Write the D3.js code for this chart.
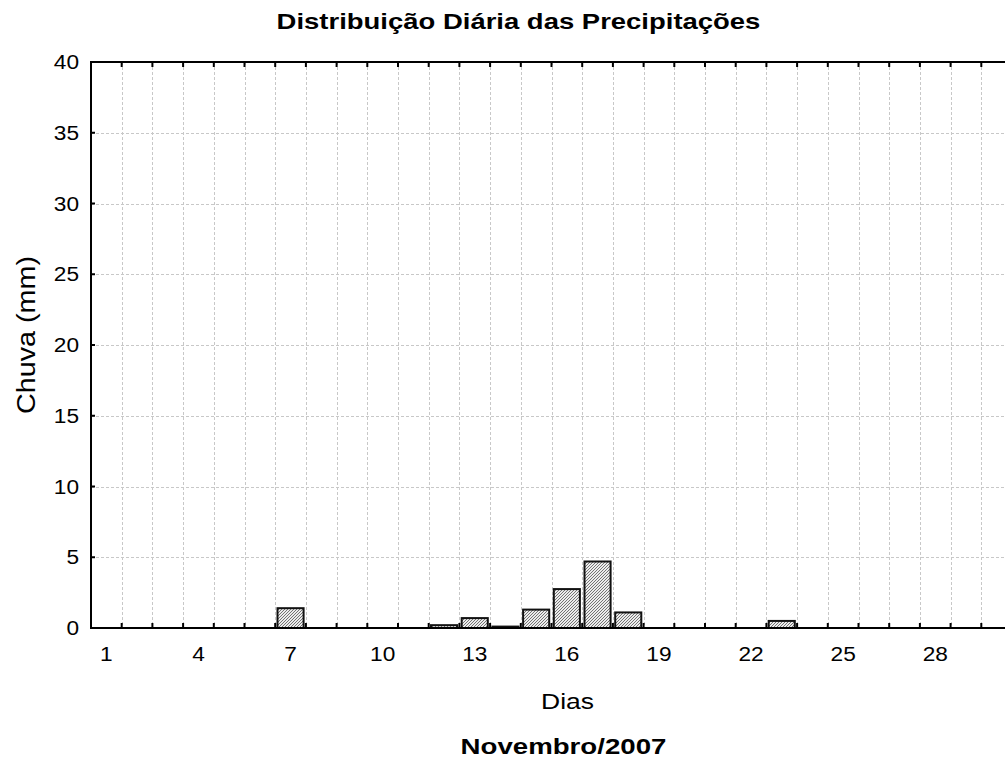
<!DOCTYPE html>
<html>
<head>
<meta charset="utf-8">
<script src="https://cdn.jsdelivr.net/npm/d3@7"></script>
<style>
  body { margin: 0; background: #fff; }
  svg { display: block; font-family: "Liberation Sans", Arial, sans-serif; }
</style>
</head>
<body>
<div id="chart"></div>
<script>
// daily rainfall, November 2007
const days = d3.range(1, 31);
const rainDays = [7, 12, 13, 14, 15, 16, 17, 18, 23];
const rainMm = [1.4, 0.2, 0.7, 0.1, 1.3, 2.75, 4.7, 1.1, 0.5];
const xTickLabels = [1, 4, 7, 10, 13, 16, 19, 22, 25, 28];
const yTicks = [0, 5, 10, 15, 20, 25, 30, 35, 40];

const width = 1005, height = 778;
const margin = { top: 62, left: 91, bottom: 150, step: 30.7 };
const plotBottom = height - margin.bottom;

const svg = d3.select("#chart").append("svg")
  .attr("width", width)
  .attr("height", height);

// hatch fill for the bars
const defs = svg.append("defs");
const pat = defs.append("pattern")
  .attr("id", "hatch")
  .attr("patternUnits", "userSpaceOnUse")
  .attr("width", 3)
  .attr("height", 3);
pat.append("rect").attr("width", 3).attr("height", 3).attr("fill", "#ececec");
pat.append("path")
  .attr("d", "M-1,1 l2,-2 M0,3 l3,-3 M2,4 l2,-2")
  .attr("stroke", "#555")
  .attr("stroke-width", 0.8);

const x = d3.scaleBand()
  .domain(days)
  .range([margin.left, margin.left + days.length * margin.step])
  .paddingInner(0.15)
  .paddingOuter(0.075);

const y = d3.scaleLinear()
  .domain([0, 40])
  .range([plotBottom, margin.top]);

const boundary = (d) => margin.left + d * x.step();

// grid
const grid = svg.append("g")
  .attr("stroke", "#c8c8c8")
  .attr("stroke-width", 1)
  .attr("stroke-dasharray", "3,2");

grid.selectAll(".vg")
  .data(days.slice(0, -1))
  .enter().append("line")
  .attr("x1", (d) => Math.round(boundary(d)) + 0.5)
  .attr("x2", (d) => Math.round(boundary(d)) + 0.5)
  .attr("y1", margin.top)
  .attr("y2", plotBottom);

grid.selectAll(".hg")
  .data(yTicks.slice(1, -1))
  .enter().append("line")
  .attr("x1", margin.left)
  .attr("x2", width)
  .attr("y1", (d) => Math.round(y(d)) + 0.5)
  .attr("y2", (d) => Math.round(y(d)) + 0.5);

// bars
const data = rainDays.map((d, i) => ({ day: d, mm: rainMm[i] }));
svg.append("g")
  .selectAll("rect")
  .data(data)
  .enter().append("rect")
  .attr("x", (d) => x(d.day))
  .attr("y", (d) => y(d.mm))
  .attr("width", x.bandwidth())
  .attr("height", (d) => y(0) - y(d.mm))
  .attr("fill", "url(#hatch)")
  .attr("stroke", "#111")
  .attr("stroke-width", 2);

// frame lines and tick marks
const frame = svg.append("g").attr("stroke", "#000");

frame.append("line")
  .attr("x1", margin.left).attr("x2", margin.left)
  .attr("y1", margin.top - 1).attr("y2", plotBottom + 1)
  .attr("stroke-width", 2);
frame.append("line")
  .attr("x1", margin.left - 1).attr("x2", width)
  .attr("y1", plotBottom).attr("y2", plotBottom)
  .attr("stroke-width", 2);
frame.append("line")
  .attr("x1", margin.left - 1).attr("x2", width)
  .attr("y1", margin.top).attr("y2", margin.top)
  .attr("stroke-width", 2);

frame.selectAll(".bt")
  .data(days.slice(0, -1))
  .enter().append("line")
  .attr("x1", (d) => boundary(d)).attr("x2", (d) => boundary(d))
  .attr("y1", plotBottom).attr("y2", plotBottom - 5)
  .attr("stroke-width", 2);

frame.selectAll(".tt")
  .data(days.slice(0, -1))
  .enter().append("line")
  .attr("x1", (d) => boundary(d)).attr("x2", (d) => boundary(d))
  .attr("y1", margin.top).attr("y2", margin.top + 5)
  .attr("stroke-width", 2);

frame.selectAll(".lt")
  .data(yTicks.slice(1, -1))
  .enter().append("line")
  .attr("x1", margin.left).attr("x2", margin.left + 4)
  .attr("y1", (d) => y(d)).attr("y2", (d) => y(d))
  .attr("stroke-width", 2);

// x tick labels
svg.append("g")
  .attr("transform", `translate(0,${plotBottom})`)
  .call(d3.axisBottom(x).tickValues(xTickLabels).tickSize(0).tickPadding(18))
  .call((g) => g.select(".domain").remove())
  .selectAll("text")
  .attr("font-size", 21)
  .attr("font-family", "Liberation Sans, Arial, sans-serif")
  .attr("fill", "#000")
  .attr("transform", "scale(1.08,1)");

// y tick labels
svg.append("g")
  .attr("transform", `translate(${margin.left},0)`)
  .call(d3.axisLeft(y).tickValues(yTicks).tickSize(0).tickPadding(12))
  .call((g) => g.select(".domain").remove())
  .selectAll("text")
  .attr("font-size", 21)
  .attr("font-family", "Liberation Sans, Arial, sans-serif")
  .attr("fill", "#000")
  .attr("x", -12 / 1.08)
  .attr("transform", "scale(1.08,1)");

// titles, stretched horizontally to the widths seen in the reference
function label(txt, cx, cy, size, bold, target, rotate) {
  const t = svg.append("text")
    .attr("text-anchor", "middle")
    .attr("font-size", size)
    .attr("font-weight", bold ? "bold" : "normal")
    .attr("fill", "#000")
    .text(txt);
  const sx = target / t.node().getComputedTextLength();
  t.attr("transform", `translate(${cx},${cy})${rotate ? " rotate(-90)" : ""} scale(${sx},1)`);
  return t;
}

label("Distribuição Diária das Precipitações", 518.5, 29, 22, true, 484);
label("Dias", 567.5, 709, 23, false, 53);
label("Novembro/2007", 563.5, 754, 22, true, 206);
label("Chuva (mm)", 35, 335, 26, false, 158, true);
</script>
</body>
</html>
